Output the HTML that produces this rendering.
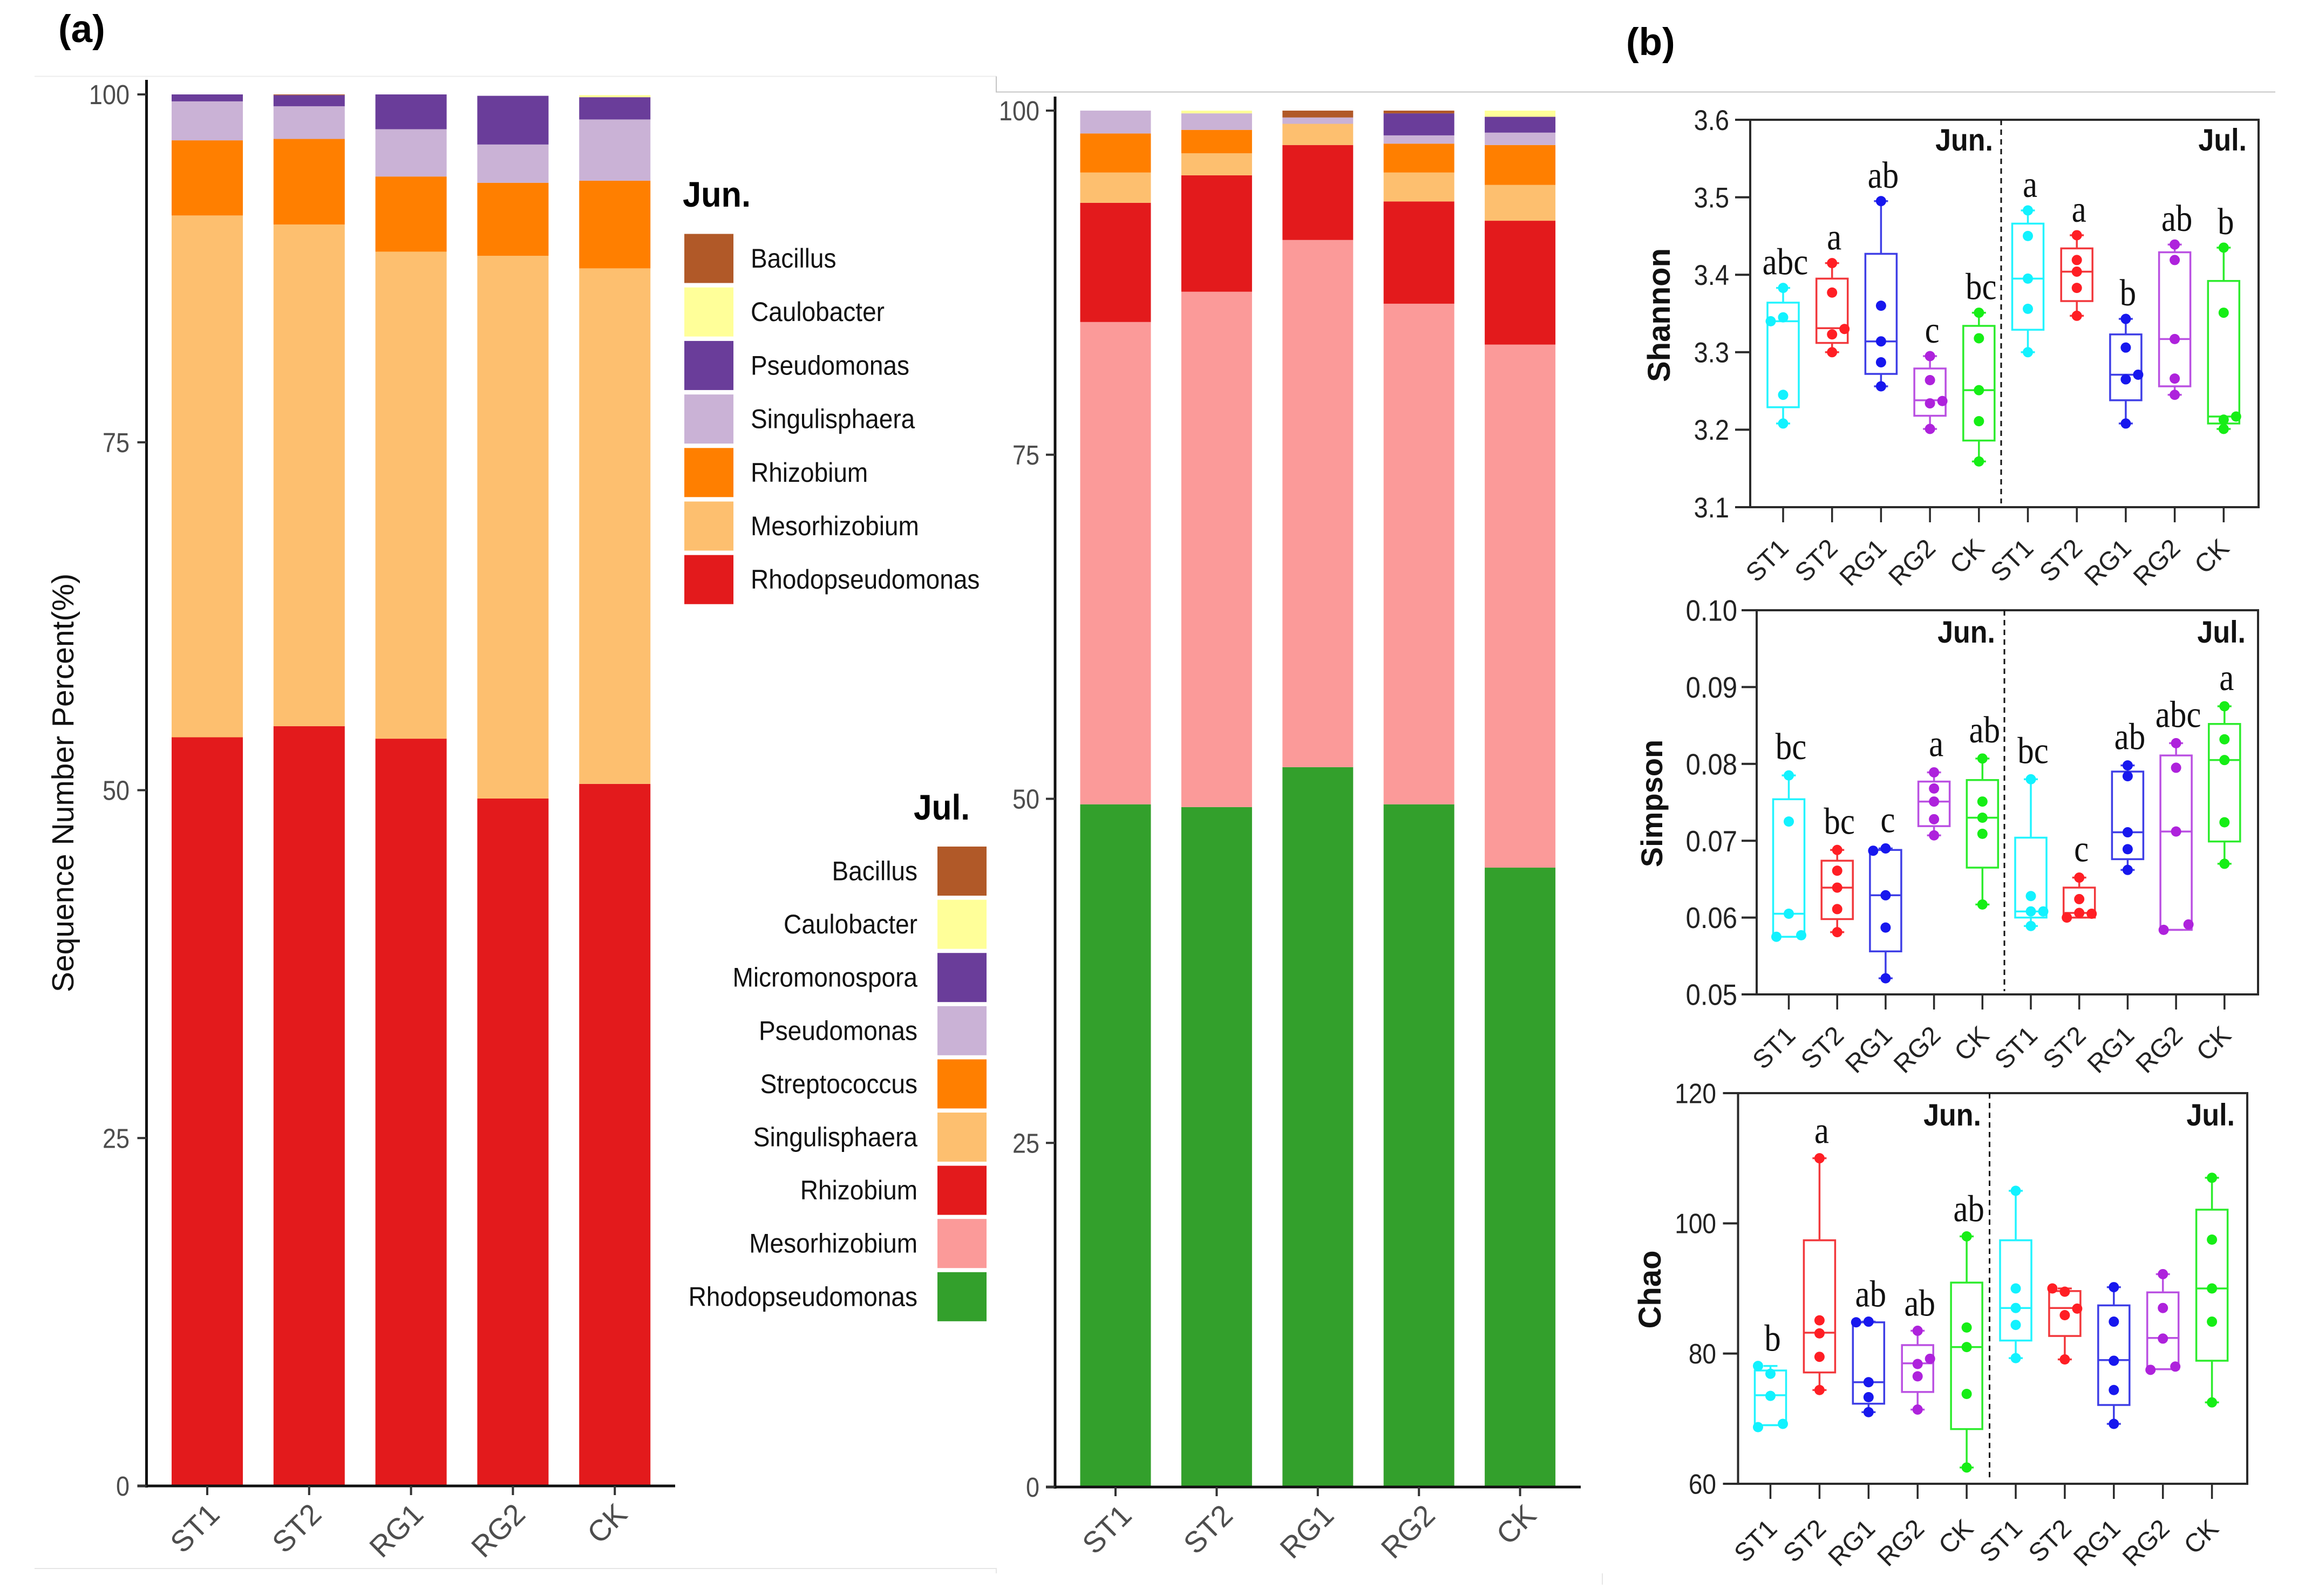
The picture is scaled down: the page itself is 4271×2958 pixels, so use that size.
<!DOCTYPE html>
<html lang="en">
<head>
<meta charset="utf-8">
<title>Community composition and alpha diversity</title>
<style>
html,body{margin:0;padding:0;background:#fff;}
svg{display:block;font-family:"Liberation Sans",Arial,sans-serif;}
</style>
</head>
<body>
<svg id="fig" xmlns="http://www.w3.org/2000/svg" width="4271" height="2958" viewBox="0 0 4271 2958">
  <rect x="0" y="0" width="4271" height="2958" fill="#ffffff"/>
  <path d="M64 141.5H1846" fill="none" stroke="#ececec" stroke-width="2"/>
  <path d="M1846 141.5V170.5H4216" fill="none" stroke="#c4c4c4" stroke-width="2"/>
  <path d="M64 2907H1846V2916M2969 2916V2937" fill="none" stroke="#e6e6e6" stroke-width="2"/>
  <text x="108" y="78" font-size="71" font-weight="bold" fill="#000">(a)</text>
  <text x="3033" y="102" font-size="71" font-weight="bold" fill="#000" transform="translate(-20 0)">(b)</text>
  <text transform="translate(136 1451) rotate(-90)" text-anchor="middle" font-size="57" fill="#111">Sequence Number Percent(%)</text>
  <text x="1265" y="383" font-size="66" font-weight="bold" textLength="126" lengthAdjust="spacingAndGlyphs" fill="#000">Jun.</text>
  <text x="1693" y="1519" font-size="66" font-weight="bold" textLength="104" lengthAdjust="spacingAndGlyphs" fill="#000">Jul.</text>
  <g id="layer"></g>
</svg>
<script>
/* ---------- shared categories ---------- */
const categories = ['ST1','ST2','RG1','RG2','CK'];
const percentTicks = [0,25,50,75,100];
const groupLabels = ['ST1','ST2','RG1','RG2','CK','ST1','ST2','RG1','RG2','CK'];

/* ---------- June stacked composition (%) ---------- */
const junRhodopseudomonas = [53.8,54.6,53.7,49.4,50.45];
const junMesorhizobium    = [37.5,36.05,35.0,39.0,37.05];
const junRhizobium        = [5.4,6.15,5.4,5.25,6.3];
const junSingulisphaera   = [2.8,2.35,3.4,2.75,4.4];
const junPseudomonas      = [0.5,0.8,2.5,3.5,1.6];
const junCaulobacter      = [0,0,0,0,0.15];
const junBacillus         = [0,0.05,0,0,0];

/* ---------- July stacked composition (%) ---------- */
const julRhodopseudomonas = [49.6,49.4,52.3,49.6,45.0];
const julMesorhizobium    = [35.04,37.44,38.3,36.37,38.0];
const julRhizobium        = [8.66,8.46,6.9,7.43,9.0];
const julSingulisphaera   = [2.2,1.6,1.54,2.1,2.6];
const julStreptococcus    = [2.84,1.7,0,2.1,2.9];
const julPseudomonas      = [1.66,1.2,0.46,0.6,0.9];
const julMicromonospora   = [0,0,0,1.6,1.15];
const julCaulobacter      = [0,0.2,0,0,0.45];
const julBacillus         = [0,0,0.5,0.2,0];

/* ---------- legend names ---------- */
const junLegendNames = ['Bacillus','Caulobacter','Pseudomonas','Singulisphaera','Rhizobium','Mesorhizobium','Rhodopseudomonas'];
const julLegendNames = ['Bacillus','Caulobacter','Micromonospora','Pseudomonas','Streptococcus','Singulisphaera','Rhizobium','Mesorhizobium','Rhodopseudomonas'];

/* ---------- Shannon ---------- */
const shannonTicks = ['3.1','3.2','3.3','3.4','3.5','3.6'];
const shannonLow    = [3.208,3.300,3.256,3.201,3.159,3.300,3.347,3.208,3.245,3.201];
const shannonQ1     = [3.229,3.312,3.272,3.218,3.186,3.329,3.366,3.238,3.256,3.208];
const shannonMedian = [3.340,3.331,3.314,3.238,3.251,3.395,3.404,3.271,3.317,3.217];
const shannonQ3     = [3.364,3.395,3.427,3.279,3.334,3.466,3.434,3.323,3.429,3.392];
const shannonHigh   = [3.383,3.415,3.495,3.295,3.351,3.483,3.451,3.343,3.439,3.435];
const shannonPoints = [
  [3.383,3.345,3.340,3.245,3.208],[3.415,3.377,3.330,3.323,3.300],[3.495,3.360,3.314,3.287,3.256],
  [3.295,3.264,3.237,3.234,3.201],[3.351,3.318,3.251,3.211,3.159],[3.483,3.450,3.395,3.356,3.300],
  [3.451,3.419,3.404,3.383,3.347],[3.343,3.306,3.271,3.265,3.208],[3.439,3.419,3.317,3.266,3.245],
  [3.435,3.351,3.217,3.213,3.201]];
const shannonDodge = [
  [0,0,-1,0,0],[0,0,1,0,0],[0,0,0,0,0],[0,0,1,0,0],[0,0,0,0,0],
  [0,0,0,0,0],[0,0,0,0,0],[0,0,1,0,0],[0,0,0,0,0],[0,0,1,0,0]];
const shannonLetters = ['abc','a','ab','c','bc','a','a','b','ab','b'];

/* ---------- Simpson ---------- */
const simpsonTicks = ['0.05','0.06','0.07','0.08','0.09','0.10'];
const simpsonLow    = [.0575,.0581,.0521,.0707,.0617,.0589,.0600,.0662,.0584,.0670];
const simpsonQ1     = [.0575,.0598,.0556,.0719,.0665,.0600,.0600,.0676,.0584,.0699];
const simpsonMedian = [.0605,.0639,.0629,.0751,.0730,.0608,.0606,.0711,.0712,.0805];
const simpsonQ3     = [.0754,.0674,.0688,.0777,.0779,.0704,.0639,.0790,.0811,.0852];
const simpsonHigh   = [.0785,.0688,.0690,.0789,.0807,.0780,.0652,.0798,.0827,.0875];
const simpsonPoints = [
  [.0785,.0725,.0605,.0577,.0575],[.0688,.0661,.0639,.0611,.0581],[.0690,.0687,.0629,.0587,.0521],
  [.0789,.0768,.0751,.0728,.0707],[.0807,.0751,.0730,.0709,.0617],[.0780,.0628,.0608,.0608,.0589],
  [.0652,.0624,.0606,.0605,.0600],[.0798,.0784,.0711,.0689,.0662],[.0827,.0795,.0712,.0591,.0584],
  [.0875,.0832,.0805,.0724,.0670]];
const simpsonDodge = [
  [0,0,0,1,-1],[0,0,0,0,0],[0,-1,0,0,0],[0,0,0,0,0],[0,0,0,0,0],
  [0,0,0,1,0],[0,0,0,1,-1],[0,0,0,0,0],[0,0,0,1,-1],[0,0,0,0,0]];
const simpsonLetters = ['bc','bc','c','a','ab','bc','c','ab','abc','a'];

/* ---------- Chao ---------- */
const chaoTicks = ['60','80','100','120'];
const chaoLow    = [69.0,74.4,71.0,71.4,62.5,79.3,79.1,69.2,77.6,72.5];
const chaoQ1     = [69.0,77.1,72.3,74.1,68.4,82.0,82.7,72.1,77.6,78.9];
const chaoMedian = [73.6,83.2,75.6,78.5,81.0,87.0,87.0,79.0,82.4,90.0];
const chaoQ3     = [77.4,97.4,84.8,81.3,90.9,97.4,89.6,87.4,89.4,102.1];
const chaoHigh   = [78.1,110.0,84.9,83.5,98.0,105.0,90.0,90.2,92.2,107.0];
const chaoPoints = [
  [78.1,76.9,73.5,69.2,68.7],[110.0,85.1,83.1,79.5,74.4],[84.9,84.8,75.6,73.3,71.0],
  [83.5,79.2,78.4,76.5,71.4],[98.0,84.0,81.0,73.8,62.5],[105.0,90.0,87.0,84.4,79.3],
  [90.0,89.5,86.9,85.9,79.1],[90.2,84.9,78.9,74.4,69.2],[92.2,87.0,82.3,78.0,77.5],
  [107.0,97.5,90.0,84.9,72.5]];
const chaoDodge = [
  [-1,0,0,1,-1],[0,0,0,0,0],[0,-1,0,0,0],[0,1,0,0,0],[0,0,0,0,0],
  [0,0,0,0,0],[-1,0,1,0,0],[0,0,0,0,0],[0,0,0,1,-1],[0,0,0,0,0]];
const chaoLetters = ['b','a','ab','ab','ab','','','','',''];

/* ---------- drawing ---------- */
const NS = 'http://www.w3.org/2000/svg';
const layer = document.getElementById('layer');
const pal = {bacillus:'#B15928',caulobacter:'#FFFF99',purple:'#6A3D9A',lilac:'#CAB2D6',orange:'#FF7F00',light:'#FDBF6F',red:'#E31A1C',pink:'#FB9A99',green:'#33A02C'};

function mk(tag, attrs, text){
  const el = document.createElementNS(NS, tag);
  for (const k in attrs) el.setAttribute(k, attrs[k]);
  if (text !== undefined) el.textContent = text;
  layer.appendChild(el);
  return el;
}
function scale(d0, d1, r0, r1){ return v => r0 + (v - d0) * (r1 - r0) / (d1 - d0); }

function drawStacked(cfg){
  const y = scale(0, 100, cfg.y0, cfg.y100);
  const x = i => cfg.xFirst + i * cfg.xStep;
  for (let c = 0; c < categories.length; c++){
    let acc = 0;
    cfg.series.forEach(s => {
      const v = s.values[c];
      if (v <= 0) { return; }
      const top = y(acc + v), bot = y(acc);
      const r = mk('rect',{x:x(c)-cfg.barW/2,y:top,width:cfg.barW,height:bot-top,fill:s.color});
      
      
      acc += v;
    });
  }
  const ya = mk('line',{x1:cfg.axisX,x2:cfg.axisX,y1:cfg.axisTop,y2:cfg.y0+3,stroke:'#111',"stroke-width":5});
  
  
  const xa = mk('line',{x1:cfg.axisX-17,x2:cfg.axisRight,y1:cfg.y0,y2:cfg.y0,stroke:'#111',"stroke-width":5});
  
  
  percentTicks.forEach(t => {
    const tk = mk('line',{x1:cfg.axisX-17,x2:cfg.axisX,y1:y(t),y2:y(t),stroke:'#333',"stroke-width":4});
    
    
    const lb = mk('text',{transform:'translate('+cfg.tickRight+' '+(y(t)+18)+') scale(1 1.14)',"text-anchor":'end',"font-size":45,fill:'#4d4d4d'},String(t));
    
    
  });
  categories.forEach((name,i) => {
    const tk = mk('line',{x1:x(i),x2:x(i),y1:cfg.y0,y2:cfg.y0+17,stroke:'#333',"stroke-width":4});
    
    
    const lb = mk('text',{transform:'translate('+(x(i)+cfg.labelDx)+' '+(cfg.y0+56)+') rotate(-45)',"text-anchor":'end',"font-size":55,fill:'#4d4d4d'},name);
    
    
  });
}

function drawLegend(names, colors, swX, swTop, pitch, side, labelX, anchor){
  names.forEach((n,i) => {
    const yTop = swTop + i * pitch;
    const s = mk('rect',{x:swX,y:yTop,width:91,height:side,fill:colors[i]});
    
    
    const t = mk('text',{transform:'translate('+labelX+' '+(yTop+side/2+17)+') scale(1 1.08)',"text-anchor":anchor,"font-size":46,fill:'#111'},n);
    
    
  });
}

const groupColors = ['#12F2FF','#FF1E24','#1717EE','#AE22DC','#16EE16','#12F2FF','#FF1E24','#1717EE','#AE22DC','#16EE16'];
const boxColors   = ['#22F4FF','#F2383C','#3E3EE6','#BA50E2','#2CEC2C','#22F4FF','#F2383C','#3E3EE6','#BA50E2','#2CEC2C'];

function drawBoxPanel(p){
  const y = scale(p.dMin, p.dMax, p.bottom, p.top);
  const x = i => p.xFirst + i * p.xStep;
  const frame = mk('rect',{x:p.left,y:p.top,width:p.right-p.left,height:p.bottom-p.top,fill:'none',stroke:'#2a2a2a',"stroke-width":4});
  
  
  const dash = mk('line',{x1:p.dashX,x2:p.dashX,y1:p.top,y2:p.dashBottom,stroke:'#111',"stroke-width":3,"stroke-dasharray":'10 8'});
  
  
  p.ticks.forEach(t => {
    const v = parseFloat(t);
    const tk = mk('line',{x1:p.left-28,x2:p.left,y1:y(v),y2:y(v),stroke:'#2a2a2a',"stroke-width":4});
    
    
    const lb = mk('text',{transform:'translate('+p.tickRight+' '+(y(v)+p.tickFont*0.4)+') scale(1 1.12)',"text-anchor":'end',"font-size":p.tickFont,fill:'#222'},t);
    
    
  });
  groupLabels.forEach((name,i) => {
    const tk = mk('line',{x1:x(i),x2:x(i),y1:p.bottom,y2:p.bottom+28,stroke:'#2a2a2a',"stroke-width":3.5});
    
    
    const lb = mk('text',{transform:'translate('+(x(i)+p.labelDx+3)+' '+(p.bottom+p.labelDy)+') rotate(-45)',"text-anchor":'end',"font-size":48,fill:'#222'},name);
    
    

    const col = boxColors[i], dot = groupColors[i], cx = x(i), hw = 29;
    const w1 = mk('line',{x1:cx,x2:cx,y1:y(p.high[i]),y2:y(p.q3[i]),stroke:col,"stroke-width":3.5});
    
    
    const w2 = mk('line',{x1:cx,x2:cx,y1:y(p.q1[i]),y2:y(p.low[i]),stroke:col,"stroke-width":3.5});
    
    
    const c1 = mk('line',{x1:cx-13,x2:cx+13,y1:y(p.high[i]),y2:y(p.high[i]),stroke:col,"stroke-width":3.5});
    
    
    const c2 = mk('line',{x1:cx-13,x2:cx+13,y1:y(p.low[i]),y2:y(p.low[i]),stroke:col,"stroke-width":3.5});
    
    
    const box = mk('rect',{x:cx-hw,y:y(p.q3[i]),width:hw*2,height:y(p.q1[i])-y(p.q3[i]),fill:'none',stroke:col,"stroke-width":3.5});
    
    
    const med = mk('line',{x1:cx-hw,x2:cx+hw,y1:y(p.median[i]),y2:y(p.median[i]),stroke:col,"stroke-width":3.5});
    
    
    p.points[i].forEach((v,j) => {
      const pt = mk('circle',{cx:cx+p.dodge[i][j]*23,cy:y(v),r:9.5,fill:dot});
      
      
    });
    if (p.letters[i]){
      const l = mk('text',{transform:'translate('+(cx+4)+' '+(y(p.high[i])-p.letterGap)+') scale(1 1.14)',"text-anchor":'middle',"font-size":61,fill:'#111',"font-family":'"Liberation Serif",serif'},p.letters[i]);
      
      
    }
  });
  const jn = mk('text',{transform:'translate('+p.junEnd+' '+p.monthY+') scale(1 1.1)',"text-anchor":'end',"font-size":52,"font-weight":'bold',fill:'#111'},'Jun.');
  
  
  const jl = mk('text',{transform:'translate('+p.julEnd+' '+p.monthY+') scale(1 1.1)',"text-anchor":'end',"font-size":52,"font-weight":'bold',fill:'#111'},'Jul.');
  
  
  const tt = mk('text',{transform:'translate('+p.titleX+' '+p.titleY+') rotate(-90)',"text-anchor":'middle',"font-size":p.titleFont,"font-weight":'bold',fill:'#111'},p.title);
  
  
}

drawStacked({y0:2754,y100:175,xFirst:384,xStep:188.8,barW:132,axisX:271.5,axisTop:148,axisRight:1251,tickRight:240,labelDx:26,
  series:[{values:junRhodopseudomonas,color:pal.red},{values:junMesorhizobium,color:pal.light},{values:junRhizobium,color:pal.orange},
          {values:junSingulisphaera,color:pal.lilac},{values:junPseudomonas,color:pal.purple},{values:junCaulobacter,color:pal.caulobacter},{values:junBacillus,color:pal.bacillus}]});
drawStacked({y0:2756,y100:205,xFirst:2067,xStep:187.4,barW:131,axisX:1955,axisTop:179,axisRight:2929,tickRight:1926,labelDx:33,
  series:[{values:julRhodopseudomonas,color:pal.green},{values:julMesorhizobium,color:pal.pink},{values:julRhizobium,color:pal.red},
          {values:julSingulisphaera,color:pal.light},{values:julStreptococcus,color:pal.orange},{values:julPseudomonas,color:pal.lilac},
          {values:julMicromonospora,color:pal.purple},{values:julCaulobacter,color:pal.caulobacter},{values:julBacillus,color:pal.bacillus}]});

drawLegend(junLegendNames,[pal.bacillus,pal.caulobacter,pal.purple,pal.lilac,pal.orange,pal.light,pal.red],1268,433.5,99.2,91,1391,'start');
drawLegend(julLegendNames,[pal.bacillus,pal.caulobacter,pal.purple,pal.lilac,pal.orange,pal.light,pal.red,pal.pink,pal.green],1737,1569,98.6,91,1700,'end');

drawBoxPanel({title:'Shannon',titleX:3094,titleY:584,titleFont:58,left:3243,right:4185,top:222,bottom:940,xFirst:3304,xStep:90.7,
  dashX:3708,dashBottom:933,tickRight:3204,tickFont:47,labelDx:10,labelDy:79,junEnd:3693,julEnd:4163,monthY:279,letterGap:25,
  dMin:3.1,dMax:3.6,ticks:shannonTicks,low:shannonLow,q1:shannonQ1,median:shannonMedian,q3:shannonQ3,high:shannonHigh,points:shannonPoints,dodge:shannonDodge,letters:shannonLetters});
drawBoxPanel({title:'Simpson',titleX:3080,titleY:1489,titleFont:56,left:3255,right:4184,top:1131,bottom:1843,xFirst:3314.5,xStep:89.7,
  dashX:3714,dashBottom:1837,tickRight:3219,tickFont:49,labelDx:12,labelDy:79,junEnd:3697,julEnd:4161,monthY:1191,letterGap:30,
  dMin:0.05,dMax:0.10,ticks:simpsonTicks,low:simpsonLow,q1:simpsonQ1,median:simpsonMedian,q3:simpsonQ3,high:simpsonHigh,points:simpsonPoints,dodge:simpsonDodge,letters:simpsonLetters});
drawBoxPanel({title:'Chao',titleX:3077,titleY:2390,titleFont:58,left:3220.5,right:4164,top:2026,bottom:2750,xFirst:3280.5,xStep:90.9,
  dashX:3686.5,dashBottom:2742,tickRight:3180,tickFont:46,labelDx:12,labelDy:86,junEnd:3671,julEnd:4141,monthY:2086,letterGap:28,
  dMin:60,dMax:120,ticks:chaoTicks,low:chaoLow,q1:chaoQ1,median:chaoMedian,q3:chaoQ3,high:chaoHigh,points:chaoPoints,dodge:chaoDodge,letters:chaoLetters});
</script>
</body>
</html>
